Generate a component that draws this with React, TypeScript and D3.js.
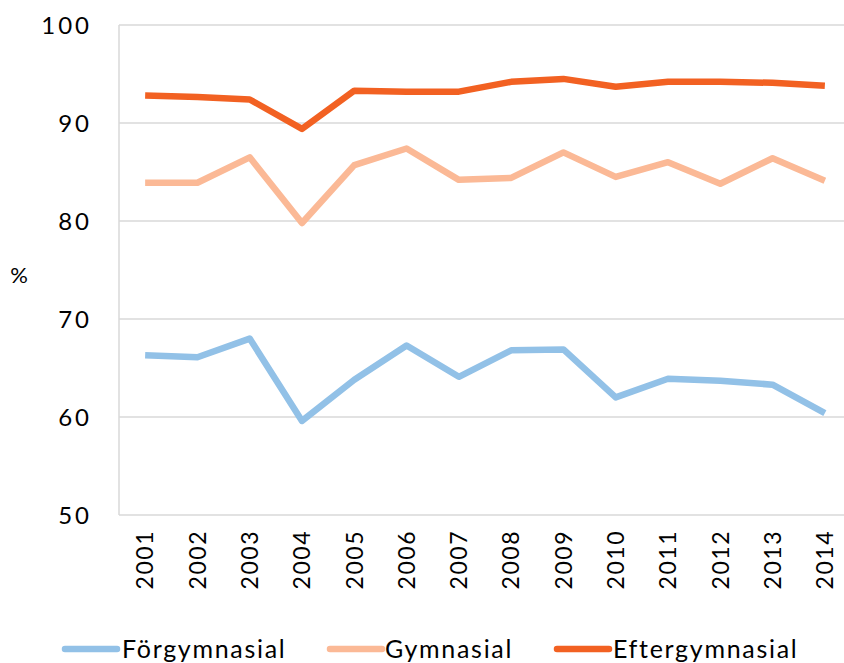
import React from "react";
import * as d3 from "d3";

const years = ["2001","2002","2003","2004","2005","2006","2007","2008","2009","2010","2011","2012","2013","2014"];
const forgymnasial = [66.3, 66.1, 68.0, 59.6, 63.8, 67.3, 64.1, 66.8, 66.9, 62.0, 63.9, 63.7, 63.3, 60.4];
const gymnasial = [83.9, 83.9, 86.5, 79.8, 85.7, 87.4, 84.2, 84.4, 87.0, 84.5, 86.0, 83.8, 86.4, 84.1];
const eftergymnasial = [92.8, 92.65, 92.4, 89.4, 93.3, 93.2, 93.2, 94.2, 94.5, 93.7, 94.2, 94.2, 94.1, 93.8];
const yTicks = [50, 60, 70, 80, 90, 100];

const seriesNames = ["Förgymnasial", "Gymnasial", "Eftergymnasial"];
const seriesValues = [forgymnasial, gymnasial, eftergymnasial];
const colors = ["#92c1e7", "#fbb996", "#f26122"];

const W = 844, H = 663;
const FONT = "Lato, 'Noto Sans', sans-serif";

export default function App() {
  const left = 119, right = 851, top = 25, bottom = 515;
  const x = d3.scaleBand<string>().domain(years).range([left, right]);
  const y = d3.scaleLinear().domain([50, 100]).range([bottom, top]);
  const line = d3.line<number>()
    .x((_, i) => (x(years[i]) as number) + x.bandwidth() / 2)
    .y((d) => y(d));

  const legendItems = [
    { lx: 65, tx: 122 },
    { lx: 330, tx: 385 },
    { lx: 557, tx: 613 },
  ];

  return (
    <svg width={W} height={H} style={{ position: "absolute", left: 0, top: 0, background: "#fff" }}>
      {yTicks.map((t) => (
        <g key={t}>
          <line x1={left} x2={W} y1={y(t)} y2={y(t)} stroke="#d9d9d9" strokeWidth={1.5} />
          <text x={92} y={y(t)} dy="0.36em" textAnchor="end" fontFamily={FONT} fontSize={24} letterSpacing={3} fill="#000">{t}</text>
        </g>
      ))}
      <line x1={left} x2={left} y1={top} y2={bottom} stroke="#d9d9d9" strokeWidth={1.5} />
      <text x={19} y={275} dy="0.36em" textAnchor="middle" fontFamily={FONT} fontSize={22} fill="#000">%</text>
      {years.map((yr) => {
        const cx = (x(yr) as number) + x.bandwidth() / 2;
        return (
          <text key={yr} transform={`translate(${cx},${530}) rotate(-90)`} dy="0.36em" textAnchor="end"
            fontFamily={FONT} fontSize={23} letterSpacing={1.5} fill="#000">{yr}</text>
        );
      })}
      {seriesValues.map((vals, i) => (
        <path key={i} d={line(vals) || ""} fill="none" stroke={colors[i]} strokeWidth={6.5} strokeLinejoin="round" />
      ))}
      {seriesNames.map((n, i) => (
        <g key={n}>
          <line x1={legendItems[i].lx} x2={legendItems[i].lx + 52} y1={649} y2={649} stroke={colors[i]} strokeWidth={6.5} strokeLinecap="round" />
          <text x={legendItems[i].tx} y={649} dy="0.36em" fontFamily={FONT} fontSize={25} letterSpacing={1.7} fill="#000">{n}</text>
        </g>
      ))}
    </svg>
  );
}
